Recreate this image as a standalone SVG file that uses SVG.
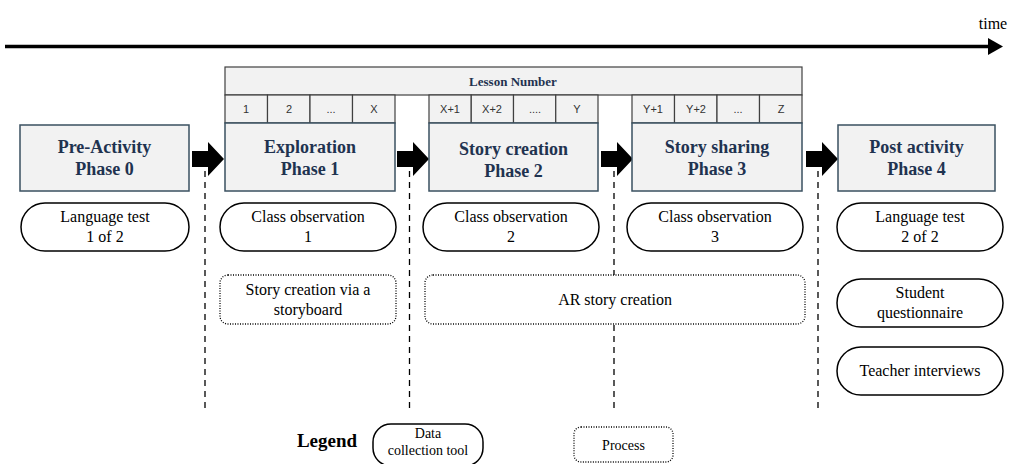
<svg xmlns="http://www.w3.org/2000/svg" width="1009" height="464" viewBox="0 0 1009 464">
<defs>
<style>
.ph{fill:#f2f2f2;stroke:#3a5060;stroke-width:1.5}
.pt{font-family:"Liberation Serif",serif;font-weight:bold;font-size:18px;fill:#1f3350;text-anchor:middle}
.cell{fill:#f2f2f2;stroke:#404040;stroke-width:1.2}
.ct{font-family:"Liberation Sans",sans-serif;font-size:11px;fill:#333;text-anchor:middle}
.pill{fill:#fff;stroke:#000;stroke-width:1.5}
.proc{fill:#fff;stroke:#000;stroke-width:1.3;stroke-dasharray:1 1.5}
.tx{font-family:"Liberation Serif",serif;font-size:16px;fill:#000;text-anchor:middle}
.dash{stroke:#000;stroke-width:1.3;stroke-dasharray:6 5;fill:none}
.barr{fill:#000}
</style>
</defs>
<g id="timeline">
<line x1="5" y1="46.5" x2="990" y2="46.5" stroke="#000" stroke-width="3.5"/>
<polygon points="988,38 1003,46.5 988,55" fill="#000"/>
<text x="993" y="29" style="font-family:'Liberation Serif',serif;font-size:16px;text-anchor:middle">time</text>
</g>
<g id="lessons">
<rect class="cell" x="225" y="67" width="577" height="28"/>
<text x="513" y="86" style="font-family:'Liberation Serif',serif;font-weight:bold;font-size:13px;fill:#1f3350;text-anchor:middle">Lesson Number</text>
<rect class="cell" x="225" y="95" width="42.5" height="28"/><text class="ct" x="246" y="113">1</text>
<rect class="cell" x="267.5" y="95" width="42.5" height="28"/><text class="ct" x="289" y="113">2</text>
<rect class="cell" x="310" y="95" width="42.5" height="28"/><text class="ct" x="331" y="113">...</text>
<rect class="cell" x="352.5" y="95" width="42.5" height="28"/><text class="ct" x="374" y="113">X</text>
<rect class="cell" x="429" y="95" width="42.25" height="28"/><text class="ct" x="450" y="113">X+1</text>
<rect class="cell" x="471.25" y="95" width="42.25" height="28"/><text class="ct" x="492" y="113">X+2</text>
<rect class="cell" x="513.5" y="95" width="42.25" height="28"/><text class="ct" x="535" y="113">....</text>
<rect class="cell" x="555.75" y="95" width="42.25" height="28"/><text class="ct" x="577" y="113">Y</text>
<rect class="cell" x="632" y="95" width="42.5" height="28"/><text class="ct" x="653" y="113">Y+1</text>
<rect class="cell" x="674.5" y="95" width="42.5" height="28"/><text class="ct" x="696" y="113">Y+2</text>
<rect class="cell" x="717" y="95" width="42.5" height="28"/><text class="ct" x="738" y="113">...</text>
<rect class="cell" x="759.5" y="95" width="42.5" height="28"/><text class="ct" x="781" y="113">Z</text>
</g>
<g id="connectors">
<line class="dash" x1="205" y1="171" x2="205" y2="413"/>
<line class="dash" x1="409.5" y1="171" x2="409.5" y2="413"/>
<line class="dash" x1="614" y1="171" x2="614" y2="413"/>
<line class="dash" x1="818" y1="171" x2="818" y2="413"/>
<polygon class="barr" points="192,151 208,151 208,142 224,159 208,176 208,167 192,167"/>
<polygon class="barr" points="397,151 413,151 413,142 429,159 413,176 413,167 397,167"/>
<polygon class="barr" points="601,151 617,151 617,142 633,159 617,176 617,167 601,167"/>
<polygon class="barr" points="806,151 822,151 822,142 838,159 822,176 822,167 806,167"/>
</g>
<g id="phase0">
<rect class="ph" x="20" y="125" width="169" height="66"/>
<text class="pt" x="104.5" y="153">Pre-Activity</text>
<text class="pt" x="104.5" y="175">Phase 0</text>
</g>
<g id="phase1">
<rect class="ph" x="225" y="123" width="170" height="68"/>
<text class="pt" x="310" y="153">Exploration</text>
<text class="pt" x="310" y="175">Phase 1</text>
</g>
<g id="phase2">
<rect class="ph" x="429" y="123" width="169" height="68"/>
<text class="pt" x="513.5" y="155">Story creation</text>
<text class="pt" x="513.5" y="177">Phase 2</text>
</g>
<g id="phase3">
<rect class="ph" x="632" y="123" width="170" height="68"/>
<text class="pt" x="717" y="153">Story sharing</text>
<text class="pt" x="717" y="175">Phase 3</text>
</g>
<g id="phase4">
<rect class="ph" x="838" y="125" width="157" height="66"/>
<text class="pt" x="916.5" y="153">Post activity</text>
<text class="pt" x="916.5" y="175">Phase 4</text>
</g>
<g id="lang1">
<rect class="pill" x="21" y="203" width="168" height="48" rx="24"/>
<text class="tx" x="105" y="222">Language test</text>
<text class="tx" x="105" y="242">1 of 2</text>
</g>
<g id="obs1">
<rect class="pill" x="220" y="203" width="176" height="48" rx="24"/>
<text class="tx" x="308" y="222">Class observation</text>
<text class="tx" x="308" y="242">1</text>
</g>
<g id="obs2">
<rect class="pill" x="423" y="203" width="176" height="48" rx="24"/>
<text class="tx" x="511" y="222">Class observation</text>
<text class="tx" x="511" y="242">2</text>
</g>
<g id="obs3">
<rect class="pill" x="627" y="203" width="176" height="48" rx="24"/>
<text class="tx" x="715" y="222">Class observation</text>
<text class="tx" x="715" y="242">3</text>
</g>
<g id="lang2">
<rect class="pill" x="837" y="203" width="166" height="48" rx="24"/>
<text class="tx" x="920" y="222">Language test</text>
<text class="tx" x="920" y="242">2 of 2</text>
</g>
<g id="questionnaire">
<rect class="pill" x="837" y="279" width="166" height="48" rx="24"/>
<text class="tx" x="920" y="298">Student</text>
<text class="tx" x="920" y="318">questionnaire</text>
</g>
<g id="interviews">
<rect class="pill" x="837" y="347" width="166" height="48" rx="24"/>
<text class="tx" x="920" y="376">Teacher interviews</text>
</g>
<g id="storyboard">
<rect class="proc" x="220" y="275" width="176" height="49" rx="8"/>
<text class="tx" x="308" y="295">Story creation via a</text>
<text class="tx" x="308" y="315">storyboard</text>
</g>
<g id="arstory">
<rect class="proc" x="425" y="275" width="380" height="49" rx="8"/>
<text class="tx" x="615" y="305">AR story creation</text>
</g>
<g id="legend">
<text x="327" y="447" style="font-family:'Liberation Serif',serif;font-weight:bold;font-size:19px;text-anchor:middle">Legend</text>
<rect class="pill" x="373" y="424" width="110" height="42" rx="18"/>
<text x="428" y="438" style="font-family:'Liberation Serif',serif;font-size:14px;text-anchor:middle">Data</text>
<text x="428" y="455" style="font-family:'Liberation Serif',serif;font-size:14px;text-anchor:middle">collection tool</text>
<rect class="proc" x="574" y="427" width="99" height="35" rx="7"/>
<text x="623.5" y="450" style="font-family:'Liberation Serif',serif;font-size:14px;text-anchor:middle">Process</text>
</g>
</svg>
